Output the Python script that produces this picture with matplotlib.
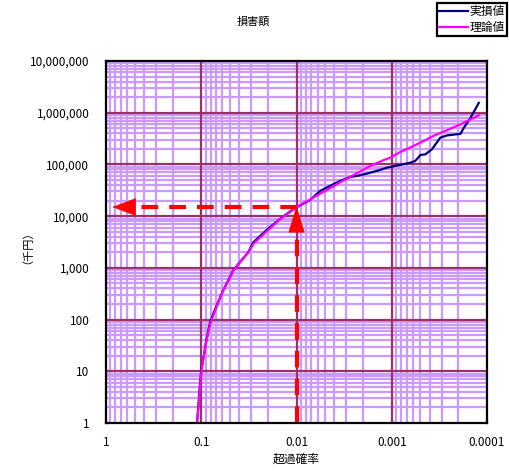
import numpy as np
import matplotlib
matplotlib.use('Agg')
import matplotlib.pyplot as plt
from matplotlib.ticker import LogLocator, FuncFormatter, NullFormatter, FixedLocator

plt.rcParams['font.family'] = ['Noto Sans CJK JP', 'DejaVu Sans']
plt.rcParams['lines.scale_dashes'] = False

# 実損値 (empirical)
p_actual = [0.111, 0.108, 0.104, 0.0995, 0.094, 0.0897, 0.0814, 0.0738, 0.0665,
            0.059, 0.0522, 0.0463, 0.0393, 0.0322, 0.0285, 0.0206, 0.0149, 0.0117,
            0.01, 0.0072, 0.00566, 0.00444, 0.00348, 0.00273, 0.00232, 0.00182,
            0.00143, 0.00112, 0.000814, 0.000638, 0.000566, 0.0005, 0.000443,
            0.000378, 0.000309, 0.000263, 0.00019, 0.000175, 0.000149, 0.000122]
v_actual = [1, 1.8, 4.7, 11.5, 20, 35, 84, 138, 218, 366, 569, 886, 1290, 1990,
            3100, 5400, 8800, 12300, 14800, 20500, 30700, 38500, 48000, 57300,
            60000, 66500, 75000, 86700, 98000, 108000, 117000, 152000, 157000,
            197000, 330000, 364000, 390000, 512000, 795000, 1550000]

# 理論値 (theoretical)
p_theory = [0.111, 0.107, 0.103, 0.099, 0.094, 0.089, 0.081, 0.073, 0.066, 0.059,
            0.052, 0.046, 0.039, 0.032, 0.028, 0.02, 0.015, 0.0117, 0.0092, 0.0072,
            0.0057, 0.0044, 0.0035, 0.00273, 0.00168, 0.00122, 0.00104, 0.000814,
            0.000638, 0.000463, 0.000363, 0.000263, 0.00019, 0.000122]
v_theory = [1, 2, 5, 11, 20, 35, 80, 135, 215, 360, 560, 880, 1300, 2000, 3000,
            5300, 8600, 12000, 16500, 21000, 27000, 35000, 45000, 57300, 93800,
            121000, 135000, 174000, 213000, 284000, 358000, 459000, 596000, 890000]

x_ticks = [1, 0.1, 0.01, 0.001, 0.0001]
x_labels = ['1', '0.1', '0.01', '0.001', '0.0001']
y_ticks = [1, 10, 100, 1000, 10000, 100000, 1000000, 10000000]

# reading example shown by the arrows
p_read = 0.01
v_read = 15000

fig = plt.figure(figsize=(5.09, 4.71), dpi=100)
ax = fig.add_axes([0.2083, 0.1019, 0.7485, 0.7686])

ax.set_xscale('log')
ax.set_yscale('log')
ax.set_xlim(1, 0.0001)
ax.set_ylim(1, 10000000)

ax.xaxis.set_major_locator(FixedLocator(x_ticks))
ax.set_xticklabels(x_labels)
ax.xaxis.set_minor_locator(LogLocator(base=10, subs=np.arange(2, 10), numticks=20))
ax.xaxis.set_minor_formatter(NullFormatter())
ax.yaxis.set_major_locator(FixedLocator(y_ticks))
ax.yaxis.set_major_formatter(FuncFormatter(lambda v, pos: '{:,.0f}'.format(v)))
ax.yaxis.set_minor_locator(LogLocator(base=10, subs=np.arange(2, 10), numticks=20))
ax.yaxis.set_minor_formatter(NullFormatter())

# minor grid from the axis, major grid drawn on top of it
ax.grid(which='minor', color='#CC99FF', lw=1.6)
ax.set_axisbelow(True)
for xt in x_ticks[1:-1]:
    ax.axvline(xt, color='#993366', lw=1.6, zorder=1)
for yt in y_ticks[1:-1]:
    ax.axhline(yt, color='#993366', lw=1.6, zorder=1)

ax.tick_params(which='major', direction='in', length=3, width=1.5, labelsize=8.5,
               color='black')
ax.tick_params(which='minor', length=0)
ax.tick_params(axis='x', pad=9)
ax.tick_params(axis='y', pad=12)
for s in ax.spines.values():
    s.set_linewidth(1.6)
    s.set_zorder(5)

l1, = ax.plot(p_actual, v_actual, color='#000080', lw=1.6, label='実損値', zorder=3)
l2, = ax.plot(p_theory, v_theory, color='#FF00FF', lw=1.6, label='理論値', zorder=3)

# red dashed reading arrows
ax.plot([p_read, 0.55], [v_read, v_read], color='red', lw=3, ls=(0, (12, 8)),
        zorder=4)
ax.annotate('', xy=(0.86, v_read), xytext=(0.55, v_read),
            arrowprops=dict(arrowstyle='-|>,head_length=16,head_width=6',
                            mutation_scale=1, color='red', lw=0.5, shrinkA=0,
                            shrinkB=0), zorder=4)
ax.plot([p_read, p_read], [1, 5500], color='red', lw=3, ls=(0, (12, 8)), zorder=4)
ax.annotate('', xy=(p_read, v_read * 1.05), xytext=(p_read, 5500),
            arrowprops=dict(arrowstyle='-|>,head_length=18,head_width=5.5',
                            mutation_scale=1, color='red', lw=0.5, shrinkA=0,
                            shrinkB=0), zorder=4)

fig.text(253 / 509, 1 - 22 / 471, '損害額', ha='center', va='center', fontsize=8)
ax.set_xlabel('超過確率', fontsize=8.5, labelpad=3)
fig.text(22 / 509, 1 - 242 / 471, '（千円）', ha='center', va='center', fontsize=8,
         rotation=90)

leg = fig.legend(handles=[l1, l2], loc='upper right',
                 bbox_to_anchor=(507 / 509, 1 - 3 / 471), fontsize=8.5,
                 frameon=True, fancybox=False, edgecolor='black', framealpha=1,
                 borderpad=0.2, handlelength=2.4, handletextpad=0.15,
                 labelspacing=0.2, borderaxespad=0)
leg.get_frame().set_linewidth(1.6)

fig.savefig('out.png', dpi=100)
